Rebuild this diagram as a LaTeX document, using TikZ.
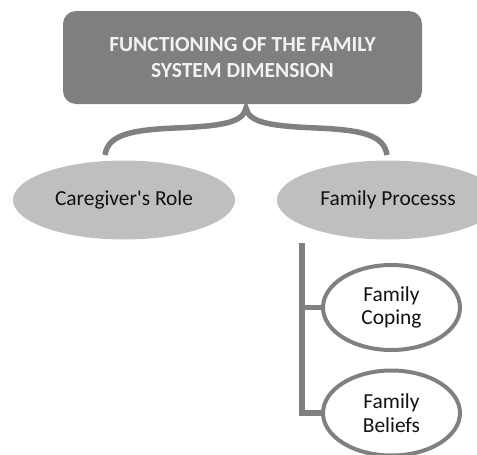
\documentclass[tikz,border=0pt]{standalone}
\usepackage{fontspec}
\setmainfont{Carlito}[Ligatures=TeXOff]
\usetikzlibrary{shapes.geometric}
\definecolor{boxgray}{HTML}{7F7F7F}
\definecolor{ellgray}{HTML}{BFBFBF}
\definecolor{linegray}{HTML}{808080}
\definecolor{txtdark}{HTML}{111111}
\definecolor{titletxt}{HTML}{F2F2F2}
\tikzset{
  titlebox/.style={fill=boxgray, draw=none, rounded corners=13pt, minimum width=359pt, minimum height=93pt, inner sep=0pt, align=center, text=titletxt, font=\fontsize{21.5}{26}\selectfont\bfseries},
  midell/.style={ellipse, fill=ellgray, draw=none, minimum width=222pt, minimum height=79pt, inner sep=0pt, text=txtdark, font=\fontsize{21.4}{24}\selectfont},
  subell/.style={ellipse, fill=white, draw=linegray, line width=4pt, minimum width=137pt, minimum height=85pt, inner sep=0pt, align=center, text=txtdark, font=\fontsize{21.4}{23.5}\selectfont},
  conn/.style={draw=linegray, line width=5.5pt},
}
\begin{document}
\begin{tikzpicture}[x=1pt,y=-1pt]
\useasboundingbox (0,0) rectangle (477,455);
\node[titlebox] (top) at (242.5,57.5) {FUNCTIONING OF THE FAMILY\\SYSTEM DIMENSION};
\node[midell] (care) at (124,200) {Caregiver's Role};
\node[midell] (proc) at (388,200) {Family Processs};
\coordinate (tip) at (246,108);
\coordinate (braceL) at (105,155);
\coordinate (braceR) at (387,155);
\coordinate (stemtop) at (302,243);
\coordinate (stemC) at (302,307.5);
\coordinate (stemB) at (302,413);
\coordinate (copingC) at (391.5,307.5);
\coordinate (beliefsC) at (391.5,413);
% brace
\draw[conn, line cap=butt] (braceL) .. controls (108,135) and (130,130) .. (175,128)
  .. controls (225,126) and (243,122) .. (tip)
  .. controls (249,122) and (267,126) .. (317,128)
  .. controls (362,130) and (384,135) .. (braceR);
% stem
\draw[conn] (stemtop) -- (stemB) -- (beliefsC);
\draw[conn] (stemC) -- (copingC);
\node[subell] (coping) at (copingC) {Family\\Coping};
\node[subell] (beliefs) at (beliefsC) {Family\\Beliefs};
\end{tikzpicture}
\end{document}
